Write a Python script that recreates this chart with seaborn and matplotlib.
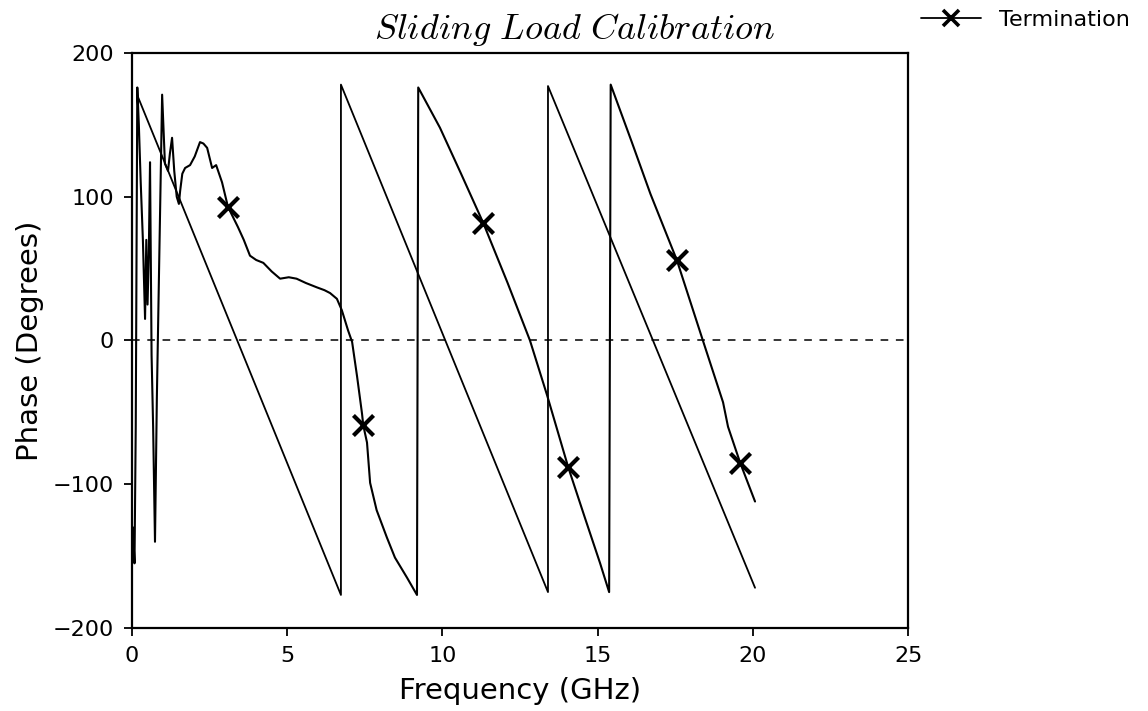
import matplotlib
matplotlib.use("Agg")
import matplotlib.pyplot as plt
from matplotlib.lines import Line2D
import seaborn as sns
import pandas as pd

# Measured phase of the termination (degrees vs GHz)
term_freq = [0.03, 0.08, 0.12, 0.17, 0.22, 0.28, 0.35, 0.42, 0.46, 0.50, 0.54, 0.58,
             0.63, 0.68, 0.74, 0.80, 0.88, 0.97, 1.06, 1.16, 1.22, 1.29, 1.36, 1.44,
             1.51, 1.55, 1.62, 1.71, 1.87, 2.02, 2.19, 2.30, 2.42, 2.58, 2.71, 2.90,
             3.09, 3.25, 3.41, 3.60, 3.80, 4.00, 4.23, 4.50, 4.77, 5.05, 5.30, 5.60,
             5.95, 6.20, 6.38, 6.60, 6.76, 6.96, 7.09, 7.25, 7.41, 7.45, 7.57, 7.67,
             7.88, 8.21, 8.47, 8.86, 9.18, 9.22, 9.92, 10.60, 11.31, 12.10, 12.82,
             13.37, 14.05, 14.60, 15.08, 15.37, 15.42, 16.10, 16.70, 17.55, 18.36,
             19.04, 19.20, 19.59, 20.07]
term_phase = [-130, -155, -60, 176, 150, 110, 70, 15, 70, 25, 60, 124,
              -10, -60, -140, -40, 60, 171, 123, 118, 130, 141, 118, 100,
              95, 104, 116, 120, 122, 128, 138, 137, 134, 120, 122, 110,
              93, 86, 79, 70, 59, 56, 54, 48, 43, 44, 43, 40,
              37, 35, 33, 29, 21, 7, -1, -25, -51, -59, -71, -99,
              -118, -137, -151, -165, -177, 176, 148, 116, 82, 40, 0,
              -38, -88, -124, -155, -175, 178, 138, 102, 56, 2,
              -43, -60, -85, -112]

# Points where the termination trace carries an X symbol
marker_freq = [3.09, 7.45, 11.31, 14.05, 17.55, 19.59]
marker_phase = [93, -59, 82, -88, 56, -85]

# Sliding-load sawtooth (wrapped linear phase)
ref_freq = [0.20, 6.73, 6.73, 13.40, 13.40, 20.07]
ref_phase = [169, -177, 178, -175, 177, -172]

x_ticks = [0, 5, 10, 15, 20, 25]
y_ticks = [-200, -100, 0, 100, 200]

sns.set_theme(style="ticks")
plt.rcParams["font.family"] = ["DejaVu Sans"]
plt.rcParams["mathtext.fontset"] = "cm"

fig = plt.figure(figsize=(11.48, 7.11), dpi=100)
ax = fig.add_axes([0.115, 0.1167, 0.676, 0.8088])

term_df = pd.DataFrame({"freq": term_freq, "phase": term_phase})
ref_df = pd.DataFrame({"freq": ref_freq, "phase": ref_phase})
mark_df = pd.DataFrame({"freq": marker_freq, "phase": marker_phase})

ax.axhline(0, color="black", lw=1.1, ls=(0, (5, 5)), zorder=1)

sns.lineplot(data=ref_df, x="freq", y="phase", ax=ax, color="black",
             lw=1.3, estimator=None, sort=False, zorder=2)
sns.lineplot(data=term_df, x="freq", y="phase", ax=ax, color="black",
             lw=1.5, estimator=None, sort=False, zorder=3)
sns.scatterplot(data=mark_df, x="freq", y="phase", ax=ax, marker="x",
                s=210, color="black", linewidth=3.0, zorder=4)

ax.set_xlim(0, 25)
ax.set_ylim(-200, 200)
ax.set_xticks(x_ticks)
ax.set_yticks(y_ticks)
ax.set_xticklabels([str(v) for v in x_ticks])
ax.set_yticklabels([str(v).replace("-", "\u2212") for v in y_ticks])

ax.tick_params(direction="out", length=6, width=1.3, color="black",
               labelsize=16, labelcolor="black", pad=7)
for s in ax.spines.values():
    s.set_color("black")
    s.set_linewidth(1.6)

ax.set_xlabel("Frequency (GHz)", fontsize=21, color="black", labelpad=8)
ax.set_ylabel("Phase (Degrees)", fontsize=21, color="black", labelpad=6)

ax.text(0.57, 1.04, r"$Sliding\ Load\ Calibration$", transform=ax.transAxes,
        ha="center", va="center", fontsize=26, color="black")

handle = Line2D([], [], color="black", lw=1.3, marker="x", markersize=12,
                markeredgewidth=2.6)
fig.legend([handle], ["Termination"], loc="center left",
           bbox_to_anchor=(0.785, 0.972), frameon=False, fontsize=16,
           handlelength=2.7, handletextpad=0.8, labelcolor="black")

fig.savefig("out.png", dpi=100, facecolor="white")
